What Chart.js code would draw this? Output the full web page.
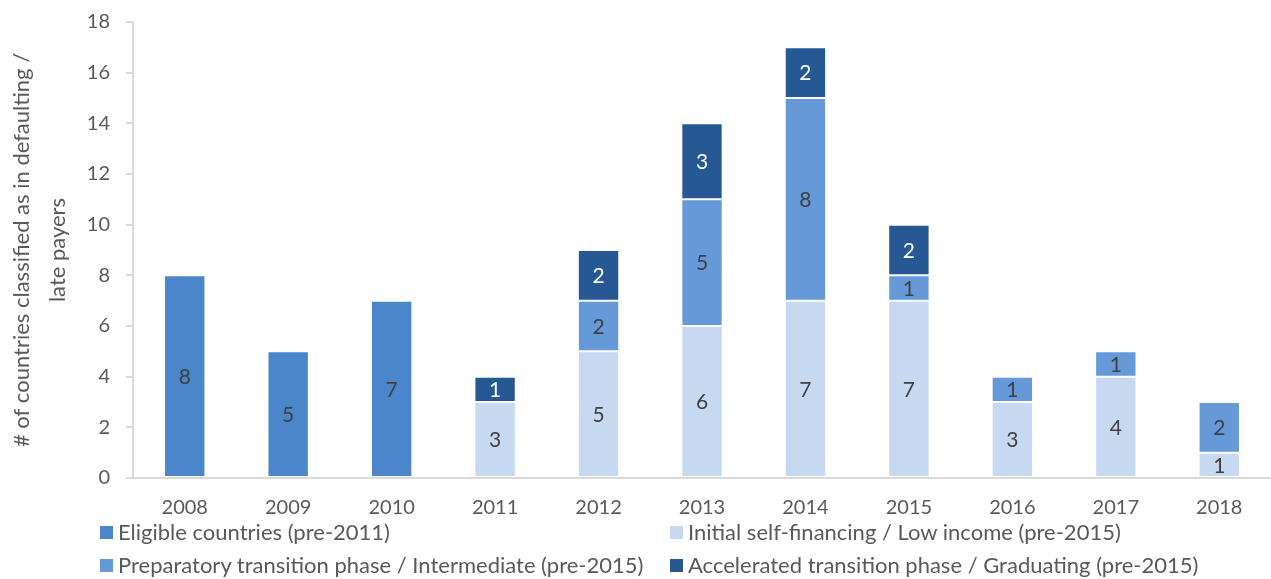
<!DOCTYPE html>
<html>
<head>
<meta charset="utf-8">
<script src="https://cdn.jsdelivr.net/npm/chart.js@4.4.0/dist/chart.umd.min.js"></script>
<style>
  html, body { margin: 0; padding: 0; background: #fff; }
  #wrap { position: relative; width: 1271px; height: 579px; }
  #legend { position: absolute; left: 0; top: 0; width: 1271px; height: 579px; pointer-events: none;
            font-family: Lato, "Noto Sans", sans-serif; font-size: 22px; color: #595959; }
  .li { position: absolute; white-space: nowrap; line-height: 26px; }
  .li span.box { position: absolute; left: -18px; top: 7px; width: 13px; height: 13px; }
</style>
</head>
<body>
<div id="wrap">
  <canvas id="c" width="1271" height="579"></canvas>
  <div id="legend"></div>
</div>
<script>
const categories = ["2008","2009","2010","2011","2012","2013","2014","2015","2016","2017","2018"];
const eligible     = [8, 5, 7, 0, 0, 0, 0, 0, 0, 0, 0];
const initial      = [0, 0, 0, 3, 5, 6, 7, 7, 3, 4, 1];
const preparatory  = [0, 0, 0, 0, 2, 5, 8, 1, 1, 1, 2];
const accelerated  = [0, 0, 0, 1, 2, 3, 2, 2, 0, 0, 0];
const seriesNames = [
  "Eligible countries (pre-2011)",
  "Initial self-financing / Low income (pre-2015)",
  "Preparatory transition phase / Intermediate (pre-2015)",
  "Accelerated transition phase / Graduating (pre-2015)"
];
const yTicks = [0, 2, 4, 6, 8, 10, 12, 14, 16, 18];
const yTitle = ["# of countries classified as in defaulting /", "late payers"];

const colors = ["#4a86c9", "#c7d9f1", "#6699d8", "#265893"];
const labelColors = ["#404040", "#404040", "#404040", "#ffffff"];
const FONT = "Lato, 'Noto Sans', sans-serif";

const labelPlugin = {
  id: 'barLabels',
  afterDatasetsDraw(chart) {
    const ctx = chart.ctx;
    ctx.save();
    ctx.font = "21px " + FONT;
    ctx.textAlign = "center";
    ctx.textBaseline = "middle";
    chart.data.datasets.forEach((ds, di) => {
      const meta = chart.getDatasetMeta(di);
      meta.data.forEach((el, i) => {
        const v = ds.data[i];
        if (!v) return;
        ctx.fillStyle = labelColors[di];
        ctx.fillText(String(v), el.x, (el.y + el.base) / 2 + 1);
      });
    });
    ctx.restore();
  }
};

const data = {
  labels: categories,
  datasets: [eligible, initial, preparatory, accelerated].map((d, i) => ({
    label: seriesNames[i],
    data: d,
    backgroundColor: colors[i],
    borderColor: "rgba(255,255,255,0.8)",
    borderWidth: 1,
    borderSkipped: false,
    stack: "s",
    categoryPercentage: 1.0,
    barPercentage: 0.4
  }))
};

new Chart(document.getElementById("c"), {
  type: "bar",
  data,
  plugins: [labelPlugin],
  options: {
    responsive: false,
    animation: false,
    layout: { padding: { top: 22, right: 0, bottom: 56, left: 0 } },
    plugins: { legend: { display: false }, tooltip: { enabled: false } },
    scales: {
      x: {
        stacked: true,
        grid: { display: false, drawTicks: false },
        border: { display: true, color: "#d9d9d9", width: 2 },
        ticks: { color: "#595959", font: { family: FONT, size: 20 }, padding: 18 },
        afterFit(s) { s.height = 45; }
      },
      y: {
        stacked: true,
        min: 0, max: 18,
        afterBuildTicks(s) { s.ticks = yTicks.map(v => ({ value: v })); },
        grid: { display: true, drawOnChartArea: false, drawTicks: true, tickLength: 7, color: "#d9d9d9", lineWidth: 2 },
        border: { display: true, color: "#d9d9d9", width: 2 },
        ticks: { color: "#595959", font: { family: FONT, size: 20, lineHeight: 0.6 }, padding: 16 },
        title: {
          display: true, text: yTitle, color: "#595959",
          font: { family: FONT, size: 22, lineHeight: "36px" },
          padding: { top: 4, bottom: 0 }
        },
        afterFit(s) { s.width = 133; }
      }
    }
  }
});

// legend (HTML, two columns)
const legendPos = [
  { x: 118, y: 519 }, { x: 688, y: 519 },
  { x: 118, y: 552 }, { x: 688, y: 552 }
];
const lg = document.getElementById("legend");
seriesNames.forEach((name, i) => {
  const d = document.createElement("div");
  d.className = "li";
  d.style.left = legendPos[i].x + "px";
  d.style.top = legendPos[i].y + "px";
  const b = document.createElement("span");
  b.className = "box";
  b.style.background = colors[i];
  d.appendChild(b);
  d.appendChild(document.createTextNode(name));
  lg.appendChild(d);
});
</script>
</body>
</html>
